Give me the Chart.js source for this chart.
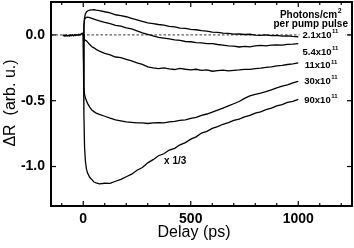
<!DOCTYPE html>
<html>
<head>
<meta charset="utf-8">
<script src="https://cdn.jsdelivr.net/npm/chart.js@4.4.0/dist/chart.umd.min.js"></script>
<style>
  body { margin: 0; background: #fff; }
</style>
</head>
<body>
<canvas id="myChart" width="354" height="248"></canvas>
<script>
// delay axis (ps) before and after time zero
var preDelays = [-95, -90, -85, -80, -75, -70, -65, -60, -55, -50, -45, -40, -35, -30, -25, -20, -15, -10, -5, 0];
var preValues = [-0.006, -0.002, -0.009, -0.004, -0.007, -0.003, -0.008, -0.002, -0.005, -0.001, -0.006, 0.0, -0.003, 0.001, -0.002, 0.003, 0.0, 0.006, 0.012, 0];

var delays = [0, 3, 6, 10, 15, 20, 30, 40, 50, 60, 75,
  100, 125, 150, 175, 200, 225, 250, 275, 300, 325, 350, 375, 400, 425, 450, 475, 500,
  525, 550, 575, 600, 625, 650, 675, 700, 725, 750, 775, 800, 825, 850, 875, 900, 925, 950, 975, 1000];

var fluence21 = [0, 0.07, 0.13, 0.16, 0.175, 0.182, 0.188, 0.19, 0.191, 0.188, 0.185,
  0.176, 0.168, 0.153, 0.147, 0.138, 0.126, 0.115, 0.103, 0.092, 0.086, 0.079, 0.075, 0.065, 0.061, 0.052, 0.05, 0.042,
  0.039, 0.032, 0.028, 0.021, 0.019, 0.013, 0.011, 0.006, 0.007, 0.003, 0.005, -0.001, -0.003, 0.0, -0.006, -0.003, -0.009, -0.007, -0.011, -0.014];

var fluence54 = [0, 0.07, 0.115, 0.128, 0.133, 0.135, 0.131, 0.126, 0.12, 0.114, 0.106,
  0.095, 0.086, 0.073, 0.066, 0.053, 0.046, 0.03, 0.016, 0.004, -0.008, -0.018, -0.024, -0.03, -0.038, -0.042, -0.05, -0.052,
  -0.059, -0.06, -0.066, -0.067, -0.073, -0.077, -0.083, -0.086, -0.092, -0.087, -0.091, -0.084, -0.079, -0.083, -0.077, -0.076, -0.078, -0.072, -0.07, -0.067];

var fluence11 = [0, -0.02, -0.035, -0.042, -0.045, -0.055, -0.073, -0.09, -0.098, -0.11, -0.124,
  -0.14, -0.152, -0.168, -0.172, -0.186, -0.198, -0.212, -0.224, -0.243, -0.25, -0.256, -0.251, -0.258, -0.263, -0.255, -0.261, -0.266,
  -0.261, -0.27, -0.266, -0.276, -0.271, -0.267, -0.274, -0.269, -0.266, -0.262, -0.262, -0.256, -0.253, -0.247, -0.243, -0.236, -0.232, -0.225, -0.22, -0.213];

var fluence30 = [0, -0.40, -0.45, -0.48, -0.5, -0.52, -0.548, -0.57, -0.583, -0.595, -0.604,
  -0.618, -0.633, -0.646, -0.653, -0.661, -0.664, -0.669, -0.668, -0.673, -0.668, -0.666, -0.669, -0.661, -0.657, -0.65, -0.646, -0.634,
  -0.626, -0.611, -0.601, -0.586, -0.571, -0.556, -0.54, -0.523, -0.506, -0.482, -0.463, -0.452, -0.443, -0.431, -0.417, -0.403, -0.39, -0.379, -0.365, -0.354];

// highest fluence, shown scaled by 1/3
var fluence90 = [0, -0.6, -0.85, -0.96, -1.02, -1.05, -1.082, -1.1, -1.118, -1.124, -1.132,
  -1.127, -1.128, -1.112, -1.097, -1.078, -1.058, -1.028, -1.008, -0.972, -0.948, -0.918, -0.903, -0.875, -0.862, -0.835, -0.818, -0.792,
  -0.775, -0.746, -0.733, -0.71, -0.697, -0.679, -0.667, -0.65, -0.64, -0.623, -0.612, -0.594, -0.585, -0.568, -0.557, -0.54, -0.53, -0.513, -0.505, -0.49];

var seriesNames = ['2.1', '5.4', '11', '30', '90'];

var xTicks = [0, 500, 1000];
var xMinorTicks = [-100, 0, 100, 200, 300, 400, 500, 600, 700, 800, 900, 1000, 1100, 1200];
var yTicks = [-1.0, -0.5, 0.0];

var FONT = '"Liberation Sans", Arial, sans-serif';

function toPoints(xs, ys) {
  return xs.map(function (x, i) { return { x: x, y: ys[i] }; });
}

function makeSet(label, xs, ys, width) {
  return {
    label: label,
    data: toPoints(xs, ys),
    borderColor: '#000',
    borderWidth: width || 1.3,
    pointRadius: 0,
    tension: 0,
    fill: false
  };
}

function line(ctx, x1, y1, x2, y2) {
  ctx.beginPath();
  ctx.moveTo(x1, y1);
  ctx.lineTo(x2, y2);
  ctx.stroke();
}

function drawSup(ctx, base, sup, x, y, size, align) {
  var big = 'bold ' + size + 'px ' + FONT;
  var small = 'bold ' + Math.round(size * 0.65) + 'px ' + FONT;
  ctx.font = big;
  var w1 = ctx.measureText(base).width;
  ctx.font = small;
  var w2 = ctx.measureText(sup).width;
  var x0 = align === 'center' ? x - (w1 + w2 + 0.5) / 2 : x;
  ctx.textAlign = 'left';
  ctx.textBaseline = 'middle';
  ctx.font = big;
  ctx.fillText(base, x0, y);
  ctx.font = small;
  ctx.fillText(sup, x0 + w1 + 0.5, y - size * 0.38);
  return { left: x0, width: w1 + w2 + 0.5 };
}

var zeroLine = {
  id: 'zeroLine',
  beforeDatasetsDraw: function (chart) {
    var ctx = chart.ctx, a = chart.chartArea;
    var py = chart.scales.y.getPixelForValue(0);
    ctx.save();
    ctx.strokeStyle = '#000';
    ctx.lineWidth = 0.8;
    ctx.setLineDash([2.5, 2]);
    line(ctx, a.left, py, a.right, py);
    ctx.restore();
  }
};

var decorations = {
  id: 'decorations',
  afterDraw: function (chart) {
    var ctx = chart.ctx, a = chart.chartArea;
    var xs = chart.scales.x, ys = chart.scales.y;
    ctx.save();
    ctx.fillStyle = '#000';
    ctx.strokeStyle = '#000';

    // labels at the right end of each trace
    var labelY = [0, -0.13, -0.234, -0.35, -0.495];
    var labelX = [1020, 1020, 1030, 1028, 1028];
    seriesNames.forEach(function (name, i) {
      var px = xs.getPixelForValue(labelX[i]);
      var py = ys.getPixelForValue(labelY[i]);
      if (i === 0) {
        ctx.fillStyle = '#fff';
        ctx.fillRect(px - 3, py - 4, 46, 8);
        ctx.fillStyle = '#000';
      }
      drawSup(ctx, name + 'x10', '11', px, py, 9.5, 'left');
    });
    drawSup(ctx, 'Photons/cm', '2', xs.getPixelForValue(1058), ys.getPixelForValue(0.152), 10, 'center');
    ctx.font = 'bold 10px ' + FONT;
    ctx.textAlign = 'center';
    ctx.textBaseline = 'middle';
    ctx.fillText('per pump pulse', xs.getPixelForValue(1058), ys.getPixelForValue(0.084));
    ctx.textAlign = 'left';
    ctx.fillText('x 1/3', xs.getPixelForValue(376), ys.getPixelForValue(-0.957));

    // inward tick marks
    ctx.lineWidth = 1.2;
    xMinorTicks.forEach(function (v) {
      var len = xTicks.indexOf(v) >= 0 ? 5 : 3;
      var px = xs.getPixelForValue(v);
      line(ctx, px, a.bottom, px, a.bottom - len);
      line(ctx, px, a.top, px, a.top + len);
    });
    yTicks.forEach(function (v) {
      var py = ys.getPixelForValue(v);
      line(ctx, a.left, py, a.left + 5, py);
      line(ctx, a.right, py, a.right - 5, py);
    });

    // frame
    ctx.lineWidth = 2;
    ctx.strokeRect(a.left, a.top, a.right - a.left, a.bottom - a.top);

    // axis titles
    ctx.font = '16px ' + FONT;
    ctx.textAlign = 'center';
    ctx.textBaseline = 'middle';
    ctx.fillText('Delay (ps)', 194, 233);
    ctx.translate(11, 103);
    ctx.rotate(-Math.PI / 2);
    ctx.fillText('\u0394R  (arb. u.)', 0, 0);
    ctx.restore();
  }
};

var ctx = document.getElementById('myChart');
var myChart = new Chart(ctx, {
  type: 'line',
  data: {
    datasets: [
      makeSet('pre', preDelays, preValues, 1.6),
      makeSet(seriesNames[0], delays, fluence21),
      makeSet(seriesNames[1], delays, fluence54),
      makeSet(seriesNames[2], delays, fluence11),
      makeSet(seriesNames[3], delays, fluence30),
      makeSet(seriesNames[4], delays, fluence90)
    ]
  },
  options: {
    responsive: false,
    animation: false,
    layout: { padding: { top: 2, right: 2, left: 0, bottom: 0 } },
    plugins: {
      legend: { display: false },
      tooltip: { enabled: false }
    },
    scales: {
      x: {
        type: 'linear',
        min: -150,
        max: 1250,
        grid: { display: false, drawTicks: false },
        border: { display: false },
        afterBuildTicks: function (scale) {
          scale.ticks = xTicks.map(function (v) { return { value: v }; });
        },
        afterFit: function (scale) {
          scale.height = 42;
          scale.paddingLeft = 0;
          scale.paddingRight = 0;
        },
        ticks: {
          padding: 5,
          color: '#000',
          maxRotation: 0,
          font: { family: FONT, size: 14, weight: 'bold' },
          callback: function (value) { return String(value); }
        }
      },
      y: {
        type: 'linear',
        min: -1.30,
        max: 0.25,
        grid: { display: false, drawTicks: false },
        border: { display: false },
        afterBuildTicks: function (scale) {
          scale.ticks = yTicks.map(function (v) { return { value: v }; });
        },
        afterFit: function (scale) {
          scale.width = 51;
          scale.paddingTop = 0;
          scale.paddingBottom = 0;
        },
        ticks: {
          padding: 6,
          color: '#000',
          font: { family: FONT, size: 14, weight: 'bold' },
          callback: function (value) { return value.toFixed(1); }
        }
      }
    }
  },
  plugins: [zeroLine, decorations]
});
</script>
</body>
</html>
